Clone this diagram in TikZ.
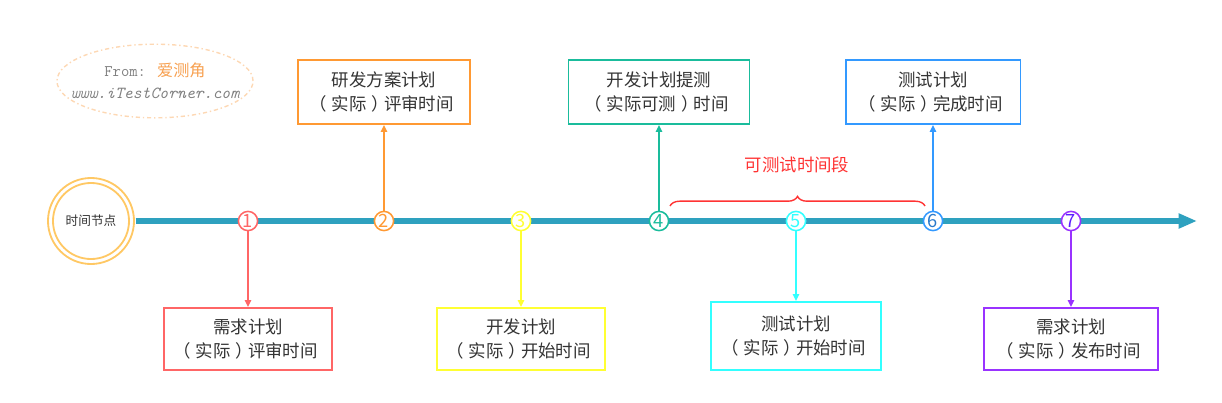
\documentclass[tikz,border=0pt]{standalone}
\usepackage{fontspec}
\setmainfont{Noto Sans CJK SC}
\newcommand{\lpar}{\hspace{-0.3em}（\hspace{0.3em}}
\newcommand{\rpar}{\hspace{0.3em}）\hspace{-0.3em}}
\usepackage{xcolor}
\definecolor{axisteal}{RGB}{46, 161, 191}
\definecolor{ringgold}{RGB}{255, 200, 100}
\definecolor{stepred}{RGB}{255, 102, 102}
\definecolor{steporange}{RGB}{255, 153, 51}
\definecolor{stepyellow}{RGB}{255, 255, 51}
\definecolor{stepgreen}{RGB}{26, 188, 156}
\definecolor{stepcyan}{RGB}{51, 255, 255}
\definecolor{stepblue}{RGB}{51, 153, 255}
\definecolor{steppurple}{RGB}{153, 51, 255}
\definecolor{bracered}{RGB}{255, 51, 51}
\definecolor{wmpeach}{RGB}{253, 216, 180}
\definecolor{wmorange}{RGB}{247, 160, 80}
\definecolor{textgray}{RGB}{51, 51, 51}
\usepackage{tikz}
\usetikzlibrary{
    shapes.geometric,
    arrows.meta,
    positioning,
    decorations.pathreplacing
}
\tikzstyle{dot} = [
    circle,
    draw,
    fill=white,
    line width=1.1pt,
    inner sep=0pt,
    minimum size=0.48cm,
    font=\fontsize{13}{13}\selectfont
]
\tikzstyle{infobox} = [
    rectangle,
    draw,
    line width=1.3pt,
    text=textgray,
    align=center,
    font=\fontsize{12.4}{17}\selectfont
]
\tikzstyle{link} = [
    -{Triangle[length=5pt, width=4.5pt]},
    line width=1pt
]

\begin{document}
\begin{tikzpicture}[x=0.025cm, y=-0.025cm]
    \useasboundingbox (0,0) rectangle (1222,402);

    % Watermark
    \node[align=center, inner sep=0pt] (wm) at (155,81)
        {{\ttfamily\fontsize{11.5}{11.5}\selectfont\color{gray}From: }{\fontsize{11.5}{11.5}\selectfont\color{wmorange}爱测角}\\[4pt]
         {\ttfamily\itshape\fontsize{12}{12}\selectfont\color{gray}www.iTestCorner.com}};
    \draw[wmpeach, line width=1pt, dash dot] (wm.center) ellipse[x radius=2.45cm, y radius=0.92cm];

    % Start ring
    \node[circle, draw=ringgold, line width=1.3pt, minimum size=1.9cm, inner sep=0pt,
          font=\fontsize{9}{9}\selectfont, text=textgray] (start) at (91,221) {时间节点};
    \draw[ringgold, line width=1.3pt] (start.center) circle[radius=1.075cm];

    % Time axis
    \coordinate (axisend) at (1197,221);
    \draw[axisteal, line width=3.6pt, -{Triangle[length=13pt, width=10pt]}]
        ([xshift=0.14cm]start.east) -- (axisend);

    % Steps on the axis
    \node[dot, draw=stepred, text=stepred] (s1) at (248,221) {1};
    \node[dot, draw=steporange, text=steporange] (s2) at (384,221) {2};
    \node[dot, draw=stepyellow, text=stepyellow] (s3) at (521,221) {3};
    \node[dot, draw=stepgreen, text=stepgreen] (s4) at (659,221) {4};
    \node[dot, draw=stepcyan, text=stepcyan] (s5) at (796,221) {5};
    \node[dot, draw=stepblue, text=stepblue!80!black] (s6) at (933,221) {6};
    \node[dot, draw=steppurple, text=steppurple!60!blue] (s7) at (1071,221) {7};

    % Boxes below
    \node[infobox, draw=stepred, minimum width=4.2cm, minimum height=1.55cm] (b1) at (248,339)
        {需求计划\\\lpar 实际\rpar 评审时间};
    \node[infobox, draw=stepyellow, minimum width=4.18cm, minimum height=1.55cm] (b3) at (521,339)
        {开发计划\\\lpar 实际\rpar 开始时间};
    \node[infobox, draw=stepcyan, minimum width=4.25cm, minimum height=1.7cm] (b5) at (796,336)
        {测试计划\\\lpar 实际\rpar 开始时间};
    \node[infobox, draw=steppurple, minimum width=4.35cm, minimum height=1.55cm] (b7) at (1071,339)
        {需求计划\\\lpar 实际\rpar 发布时间};

    % Boxes above
    \node[infobox, draw=steporange, minimum width=4.3cm, minimum height=1.6cm] (b2) at (384,92)
        {研发方案计划\\\lpar 实际\rpar 评审时间};
    \node[infobox, draw=stepgreen, minimum width=4.52cm, minimum height=1.6cm] (b4) at (659,92)
        {开发计划提测\\\lpar 实际可测\rpar 时间};
    \node[infobox, draw=stepblue, minimum width=4.37cm, minimum height=1.6cm] (b6) at (933,92)
        {测试计划\\\lpar 实际\rpar 完成时间};

    % Links
    \draw[link, stepred] (s1) -- (b1);
    \draw[link, steporange] (s2) -- (b2);
    \draw[link, stepyellow] (s3) -- (b3);
    \draw[link, stepgreen] (s4) -- (b4);
    \draw[link, stepcyan] (s5) -- (b5);
    \draw[link, stepblue] (s6) -- (b6);
    \draw[link, steppurple] (s7) -- (b7);

    % Test window
    \coordinate (winl) at (670,206);
    \coordinate (winr) at (925,206);
    \draw[bracered, line width=1pt, decorate,
          decoration={brace, amplitude=0.24cm}] (winl) -- (winr);
    \node[text=bracered, font=\fontsize{12.4}{12.4}\selectfont] (win) at (797,165) {可测试时间段};
\end{tikzpicture}
\end{document}
